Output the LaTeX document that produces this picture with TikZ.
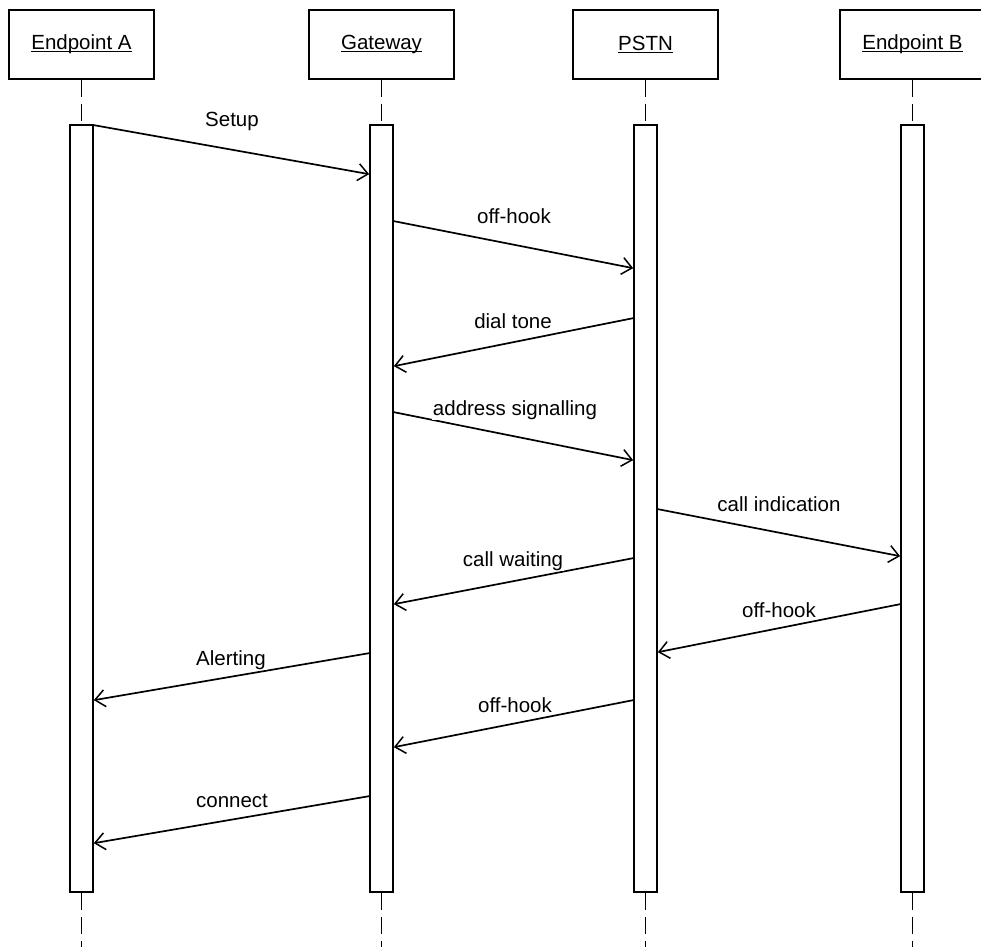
\documentclass[tikz,border=0pt]{standalone}
\usepackage{fontspec}
\setmainfont{Liberation Sans}
\usetikzlibrary{arrows.meta}
% underlined participant name, rule sits just under the baseline
\newcommand\ulname[1]{{\setbox0\hbox{#1}\rlap{\rule[-2.4pt]{\wd0}{1.3pt}}\box0}}

\begin{document}
\begin{tikzpicture}[x=1pt,y=-1pt,
  every node/.style={font=\fontsize{20.5}{24}\selectfont},
  actor/.style={draw, line width=1.8pt, minimum width=145pt, minimum height=69pt, inner sep=0pt},
  actbar/.style={draw, fill=white, line width=1.7pt, minimum width=23pt, minimum height=767pt, inner sep=0pt},
  life/.style={line width=1.5pt, dash pattern=on 17pt off 7pt},
  msg/.style={line width=1.7pt, -{Straight Barb[length=10pt,width=17pt,line width=1.5pt]}},
  msglabel/.style={anchor=base, fill=white, inner sep=1pt}
]
\useasboundingbox (0,0) rectangle (981,947);
\clip (0,0) rectangle (981,947);

% participants
\node[actor] (hA) at (81.5,44.5) {\ulname{Endpoint A}};
\node[actor] (hG) at (381.5,44.5){\ulname{Gateway}};
\node[actor] (hP) at (645.5,44.5){\ulname{PSTN}};
\node[actor] (hB) at (912.5,44.5){\ulname{Endpoint B}};

% lifeline ends
\coordinate (eA) at (81.5,947);
\coordinate (eG) at (381.5,947);
\coordinate (eP) at (645.5,947);
\coordinate (eB) at (912.5,947);

% activation bars
\node[actbar] (bA) at (81.5,508.5) {};
\node[actbar] (bG) at (381.5,508.5) {};
\node[actbar] (bP) at (645.5,508.5) {};
\node[actbar] (bB) at (912.5,508.5) {};

% lifelines
\foreach \p in {A,G,P,B}{
  \draw[life] (h\p.south) -- (b\p.north);
  \draw[life] (b\p.south) -- (e\p);
}

% messages (yshift measured from the top of the bars)
\draw[msg] ([yshift=-1pt]bA.north east)   -- ([yshift=-50pt]bG.north west);
\draw[msg] ([yshift=-97pt]bG.north east)  -- ([yshift=-144pt]bP.north west);
\draw[msg] ([yshift=-194pt]bP.north west) -- ([yshift=-242pt]bG.north east);
\draw[msg] ([yshift=-288pt]bG.north east) -- ([yshift=-336pt]bP.north west);
\draw[msg] ([yshift=-385pt]bP.north east) -- ([yshift=-432pt]bB.north west);
\draw[msg] ([yshift=-434pt]bP.north west) -- ([yshift=-480pt]bG.north east);
\draw[msg] ([yshift=-480pt]bB.north west) -- ([yshift=-528pt]bP.north east);
\draw[msg] ([yshift=-529pt]bG.north west) -- ([yshift=-576pt]bA.north east);
\draw[msg] ([yshift=-576pt]bP.north west) -- ([yshift=-623pt]bG.north east);
\draw[msg] ([yshift=-672pt]bG.north west) -- ([yshift=-719pt]bA.north east);

% message labels
\node[msglabel] (l1)  at (232,126) {Setup};
\node[msglabel] (l2)  at (514,223) {off-hook};
\node[msglabel] (l3)  at (513,328) {dial tone};
\node[msglabel] (l4)  at (515,415) {address signalling};
\node[msglabel] (l5)  at (779,511) {call indication};
\node[msglabel] (l6)  at (513,566) {call waiting};
\node[msglabel] (l7)  at (779,617) {off-hook};
\node[msglabel] (l8)  at (231,665) {Alerting};
\node[msglabel] (l9)  at (515,712) {off-hook};
\node[msglabel] (l10) at (232,807) {connect};
\end{tikzpicture}
\end{document}
